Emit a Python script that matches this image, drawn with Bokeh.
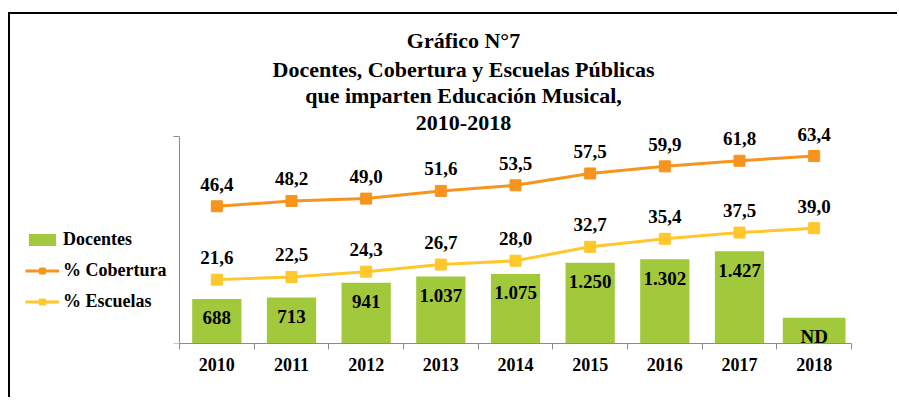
from bokeh.plotting import figure
from bokeh.models import (Range1d, LinearAxis, FixedTicker, ColumnDataSource, LabelSet,
                          Label, Legend, LegendItem)
from bokeh.core.properties import value
from bokeh.embed import file_html
from bokeh.resources import INLINE

years = ["2010", "2011", "2012", "2013", "2014", "2015", "2016", "2017", "2018"]
docentes = [688, 713, 941, 1037, 1075, 1250, 1302, 1427]
nd_value = 400  # placeholder height of the "ND" bar
cobertura = [46.4, 48.2, 49.0, 51.6, 53.5, 57.5, 59.9, 61.8, 63.4]
escuelas = [21.6, 22.5, 24.3, 26.7, 28.0, 32.7, 35.4, 37.5, 39.0]
title_lines = ["Gráfico N°7", "Docentes, Cobertura y Escuelas Públicas",
               "que imparten Educación Musical,", "2010-2018"]
bar_axis_max = 3200
pct_axis_max = 70

FONT = value("Liberation Serif")
GREEN = "#A2C93C"
ORANGE = "#F7941D"
YELLOW = "#FFC72C"
AXIS = "#8C8C8C"

# geometry (canvas pixels)
W, H = 889, 385
AX_L, AX_R = 169, 841      # plotted area left/right
AX_T, AX_B = 122, 329      # plotted area top / x-axis
n = len(years)
ppx = (AX_R - AX_L) / n
ppy = (AX_B - AX_T)
x_start = -AX_L / ppx
x_end = (W - AX_L) / ppx
y_end = bar_axis_max * AX_B / ppy
pct_end = pct_axis_max * AX_B / ppy

xs = [i + 0.5 for i in range(n)]

def fmt_int(v):
    return f"{v:,}".replace(",", ".")

def fmt_dec(v):
    return f"{v:.1f}".replace(".", ",")

p = figure(width=W, height=H, output_backend="svg", toolbar_location=None,
           x_range=Range1d(x_start, x_end), y_range=Range1d(0, y_end),
           x_axis_location=None, y_axis_location=None,
           min_border_left=0, min_border_right=0, min_border_top=0,
           min_border_bottom=H - AX_B)
p.extra_y_ranges = {"pct": Range1d(0, pct_end)}
p.xgrid.visible = False
p.ygrid.visible = False
p.outline_line_color = None
p.styles = {"margin-left": "8px", "margin-top": "12px",
            "border-top": "2px solid black", "border-left": "2px solid black"}

# bars
bar_src = ColumnDataSource(dict(x=xs[:len(docentes)], y=docentes,
                                lbl=[fmt_int(v) for v in docentes]))
bars = p.vbar(x="x", top="y", width=0.66, source=bar_src, fill_color=GREEN, line_color=None)
nd_src = ColumnDataSource(dict(x=xs[len(docentes):], y=[nd_value], lbl=["ND"]))
p.vbar(x="x", top="y", width=0.84, source=nd_src, fill_color=GREEN, line_color=None)

for src in (bar_src, nd_src):
    p.add_layout(LabelSet(x="x", y="y", text="lbl", source=src, y_offset=-19,
                          text_align="center", text_baseline="middle",
                          text_font=FONT, text_font_style="bold",
                          text_font_size="19px", text_color="black"))

# lines
cob_src = ColumnDataSource(dict(x=xs, y=cobertura, lbl=[fmt_dec(v) for v in cobertura]))
esc_src = ColumnDataSource(dict(x=xs, y=escuelas, lbl=[fmt_dec(v) for v in escuelas]))
cl = p.line("x", "y", source=cob_src, y_range_name="pct", line_color=ORANGE, line_width=3)
cm = p.scatter("x", "y", source=cob_src, y_range_name="pct", marker="square", size=11,
               fill_color=ORANGE, line_color=ORANGE)
el = p.line("x", "y", source=esc_src, y_range_name="pct", line_color=YELLOW, line_width=3)
em = p.scatter("x", "y", source=esc_src, y_range_name="pct", marker="square", size=11,
               fill_color=YELLOW, line_color=YELLOW)
for src in (cob_src, esc_src):
    p.add_layout(LabelSet(x="x", y="y", text="lbl", source=src, y_range_name="pct",
                          y_offset=22, text_align="center", text_baseline="middle",
                          text_font=FONT, text_font_style="bold",
                          text_font_size="19px", text_color="black"))

# axes
xa = LinearAxis(bounds=(0, n))
xa.ticker = FixedTicker(ticks=xs, minor_ticks=list(range(n + 1)))
xa.major_label_overrides = {x: y for x, y in zip(xs, years)}
xa.major_tick_out = 0
xa.major_tick_in = 0
xa.minor_tick_out = 6
xa.minor_tick_in = 0
xa.minor_tick_line_color = AXIS
xa.axis_line_color = AXIS
xa.major_label_text_font = "Liberation Serif"
xa.major_label_text_font_style = "bold"
xa.major_label_text_font_size = "18px"
xa.major_label_text_color = "black"
xa.major_label_standoff = 8
p.add_layout(xa, "below")

ya = LinearAxis(bounds=(0, bar_axis_max), fixed_location=0)
ya.ticker = FixedTicker(ticks=[0, bar_axis_max])
ya.major_tick_out = 6
ya.major_tick_in = 0
ya.minor_tick_out = 0
ya.major_tick_line_color = AXIS
ya.axis_line_color = AXIS
ya.major_label_text_alpha = 0
p.add_layout(ya, "left")

# legend
legend = Legend(items=[LegendItem(label="Docentes", renderers=[bars]),
                       LegendItem(label="% Cobertura", renderers=[cl, cm]),
                       LegendItem(label="% Escuelas", renderers=[el, em])],
                location=(15, 31), padding=0, margin=0, spacing=10,
                glyph_width=34, glyph_height=15, label_standoff=4,
                label_text_font="Liberation Serif", label_text_font_style="bold",
                label_text_font_size="18px", label_text_color="black",
                border_line_color=None, background_fill_alpha=0)
p.add_layout(legend)

# title
for txt, yy in zip(title_lines, [24, 53, 79, 106]):
    p.add_layout(Label(x=451, y=yy, x_units="canvas", y_units="canvas", text=txt,
                       text_align="center", text_baseline="alphabetic",
                       text_font="Liberation Serif", text_font_style="bold",
                       text_font_size="22px", text_color="black"))

open("out.html", "w").write(file_html(p, INLINE))
